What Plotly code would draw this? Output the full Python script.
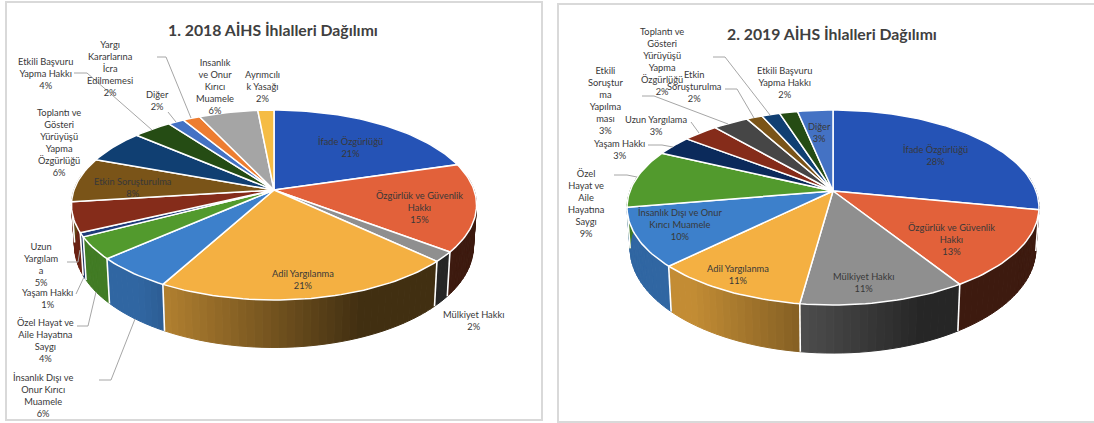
import math
import plotly.graph_objects as go

# ---------- data ----------
labels_2018 = ["İfade Özgürlüğü", "Özgürlük ve Güvenlik<br>Hakkı", "Mülkiyet Hakkı", "Adil Yargılanma",
               "İnsanlık Dışı ve<br>Onur Kırıcı<br>Muamele", "Özel Hayat ve<br>Aile Hayatına<br>Saygı",
               "Yaşam Hakkı", "Uzun<br>Yargılam<br>a", "Etkin Soruşturulma",
               "Toplantı ve<br>Gösteri<br>Yürüyüşü<br>Yapma<br>Özgürlüğü", "Etkili Başvuru<br>Yapma Hakkı",
               "Diğer", "Yargı<br>Kararlarına<br>İcra<br>Edilmemesi", "Insanlık<br>ve Onur<br>Kırıcı<br>Muamele",
               "Ayrımcılı<br>k Yasağı"]
shares_2018 = [20.4, 15.0, 1.7, 20.9, 5.5, 3.8, 0.7, 5.1, 7.6, 5.7, 3.6, 1.5, 1.6, 5.5, 1.5]
percents_2018 = [21, 15, 2, 21, 6, 4, 1, 5, 8, 6, 4, 2, 2, 6, 2]

labels_2019 = ["İfade Özgürlüğü", "Özgürlük ve Güvenlik<br>Hakkı", "Mülkiyet Hakkı", "Adil Yargılanma",
               "İnsanlık Dışı ve Onur<br>Kırıcı Muamele", "Özel<br>Hayat ve<br>Aile<br>Hayatına<br>Saygı",
               "Yaşam Hakkı", "Uzun Yargılama", "Etkili<br>Soruştur<br>ma<br>Yapılma<br>ması",
               "Etkin<br>Soruşturulma", "Toplantı ve<br>Gösteri<br>Yürüyüşü<br>Yapma<br>Özgürlüğü",
               "Etkili Başvuru<br>Yapma Hakkı", "Diğer"]
shares_2019 = [28.4, 13.1, 11.3, 10.6, 9.8, 9.8, 3.4, 3.3, 3.3, 1.5, 1.7, 1.7, 3.3]
percents_2019 = [28, 13, 11, 11, 10, 9, 3, 3, 3, 2, 2, 2, 3]

# ---------- style and layout ----------
colors_2018 = ["#2553B6", "#E2613A", "#8F8F8F", "#F4B042", "#3D80CB", "#529A2D", "#1F3C7A", "#852C1A",
               "#7A5418", "#103F72", "#254C14", "#4472C4", "#ED7D31", "#A5A5A5", "#F5BC45"]
colors_2019 = ["#2553B6", "#E2613A", "#8F8F8F", "#F4B042", "#3D80CB", "#529A2D", "#0B2A5B", "#852C1A",
               "#464646", "#7A5418", "#103F72", "#254C14", "#4472C4"]
label_pos_2018 = [(350, 147), (419, 207.5), (473, 320), (303, 279), (43, 395.5), (45, 340), (47, 298), (41, 264.5),
                  (133, 187), (59, 142), (45, 73), (157, 100.5), (110, 68), (215, 86), (262, 86)]
label_pos_2019 = [(935, 155), (951, 239), (863, 282.5), (738, 274), (680, 224), (586, 203), (619, 149), (656, 125),
                  (605, 100), (694, 86), (662, 61), (784, 82), (819, 132)]
leaders = [
    [(157, 57), (166, 57), (191, 118)], [(74, 73), (87, 73), (152, 130)], [(168, 112), (176, 122)],
    [(67, 262), (78, 262), (80, 250)], [(76, 294), (84, 277)], [(77, 326), (88, 326), (96, 292)],
    [(99, 380), (111, 380), (135, 319)],
    [(713, 57), (725, 57), (770, 115)], [(725, 89), (737, 89), (754, 118)], [(642, 96), (654, 96), (728, 124)],
    [(691, 122), (699, 133)], [(648, 145), (662, 145), (673, 147)], [(614, 175), (627, 175), (637, 177)],
]
FONT = "Lato, 'Open Sans', sans-serif"
fig = go.Figure()


def shade(hex_color, f):
    r, g, b = (int(hex_color[i:i + 2], 16) for i in (1, 3, 5))
    return f"rgb({int(r * f)},{int(g * f)},{int(b * f)})"


def pie3d(labels, shares, percents, colors, label_pos, cx, cy, rx, ry, k, depth):
    def top(t):
        u, v = math.sin(t), -math.cos(t)
        s = 1 / (1 - k * v)
        return cx + rx * u * s, cy + ry * v * s

    def bottom(t):
        v = -math.cos(t)
        x, y = top(t)
        return cx + (x - cx) * 0.985, y + depth / (1 - k * v)

    total = sum(shares)
    edges = [0.0]
    for s in shares:
        edges.append(edges[-1] + s / total * 2 * math.pi)
    # angles whose wall faces the viewer
    t0, t1 = math.pi / 2 - math.asin(k), 3 * math.pi / 2 + math.asin(k)
    step = math.radians(2)
    # side walls
    for i, c in enumerate(colors):
        a, b = max(edges[i], t0), min(edges[i + 1], t1)
        if a >= b:
            continue
        n = max(1, round((b - a) / step))
        for j in range(n):
            p, q = a + (b - a) * j / n, a + (b - a) * (j + 1) / n
            pts = [top(p), top(q), bottom(q), bottom(p), top(p)]
            f = min(0.8, max(0.27, 0.47 - 0.55 * math.sin((p + q) / 2)))
            col = shade(c, f)
            fig.add_trace(go.Scatter(x=[z[0] for z in pts], y=[z[1] for z in pts], mode="lines", fill="toself",
                                     fillcolor=col, line=dict(color=col, width=1), hoverinfo="skip",
                                     showlegend=False))
    # white seams on the walls
    for e in edges:
        if t0 < e < t1:
            p, q = top(e), bottom(e)
            fig.add_trace(go.Scatter(x=[p[0], q[0]], y=[p[1], q[1]], mode="lines",
                                     line=dict(color="white", width=1.6), hoverinfo="skip", showlegend=False))
    # top slices
    for i, c in enumerate(colors):
        n = max(2, int((edges[i + 1] - edges[i]) / math.radians(1.5)))
        arc = [top(edges[i] + (edges[i + 1] - edges[i]) * j / n) for j in range(n + 1)]
        pts = [(cx, cy)] + arc + [(cx, cy)]
        name = labels[i].replace("<br>", " ")
        fig.add_trace(go.Scatter(x=[z[0] for z in pts], y=[z[1] for z in pts], mode="lines", fill="toself",
                                 fillcolor=c, line=dict(color="white", width=1.5), name=name,
                                 text=f"{name}: {percents[i]}%", hoverinfo="text", showlegend=False))
    # labels
    for lab, pct, (x, y) in zip(labels, percents, label_pos):
        fig.add_annotation(x=x, y=y, text=f"{lab}<br>{pct}%", showarrow=False, align="center",
                           font=dict(family=FONT, size=9.3, color="#383838"), xanchor="center", yanchor="middle")


pie3d(labels_2018, shares_2018, percents_2018, colors_2018, label_pos_2018, 274, 190, 200, 92.6, 0.158, 40)
pie3d(labels_2019, shares_2019, percents_2019, colors_2019, label_pos_2019, 833, 191, 203, 94.7, 0.169, 40)

for path in leaders:
    fig.add_trace(go.Scatter(x=[p[0] for p in path], y=[p[1] for p in path], mode="lines",
                             line=dict(color="#A6A6A6", width=1), hoverinfo="skip", showlegend=False))

for txt, x, y in [("1. 2018 AİHS İhlalleri Dağılımı", 273, 29), ("2. 2019 AİHS İhlalleri Dağılımı", 832, 33)]:
    fig.add_annotation(x=x, y=y, text=f"<b>{txt}</b>", showarrow=False, xanchor="center", yanchor="middle",
                       font=dict(family=FONT, size=15.8, color="#404040"))

frame = dict(color="#D9D9D9", width=2)
fig.add_shape(type="rect", x0=6, y0=2, x1=542, y1=420, line=frame, layer="below")
fig.add_shape(type="rect", x0=558, y0=4, x1=1110, y1=422, line=frame, layer="below")

fig.update_layout(width=1094, height=423, margin=dict(l=0, r=0, t=0, b=0), paper_bgcolor="white",
                  plot_bgcolor="white", showlegend=False,
                  xaxis=dict(range=[0, 1094], visible=False, fixedrange=True),
                  yaxis=dict(range=[423, 0], visible=False, fixedrange=True))
fig.write_html("out.html", config={"displayModeBar": False},
               post_script="document.body.style.margin='0';document.body.style.overflow='hidden';")
